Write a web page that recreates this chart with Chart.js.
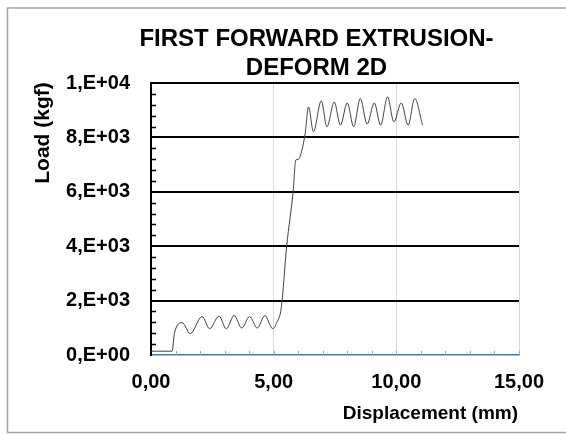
<!DOCTYPE html>
<html>
<head>
<meta charset="utf-8">
<script src="https://cdn.jsdelivr.net/npm/chart.js@4"></script>
<style>
  html, body { margin: 0; padding: 0; background: #fff; }
</style>
</head>
<body>
<canvas id="chart" width="566" height="434"></canvas>
<script>
// displacement (mm) and load (kgf)
const displacement = [0, 0.86, 0.96, 1.27, 1.6, 2.08, 2.39, 2.77, 3.07, 3.39, 3.70, 4.02, 4.33, 4.64, 4.96, 5.13, 5.31,
  5.53, 5.80, 5.90, 6.01, 6.15, 6.28, 6.42, 6.62, 6.94, 7.17, 7.47, 7.72, 8.00, 8.26, 8.53, 8.81,
  9.10, 9.36, 9.64, 9.90, 10.20, 10.48, 10.75, 11.07];
const load = [140, 140, 820, 1187, 785, 1415, 965, 1430, 965, 1450, 990, 1415, 990, 1450, 967, 1200, 1736,
  3990, 6070, 7170, 7190, 7530, 8120, 9120, 8210, 9340, 8390, 9300, 8450, 9270, 8390, 9430, 8490,
  9270, 8450, 9490, 8570, 9270, 8450, 9430, 8450];

const yTickValues = [0, 2000, 4000, 6000, 8000, 10000];
const yTickLabels = ['0,E+00', '2,E+03', '4,E+03', '6,E+03', '8,E+03', '1,E+04'];
const xTickValues = [0, 5, 10, 15];
const xTickLabels = ['0,00', '5,00', '10,00', '15,00'];

const titleLines = ['FIRST FORWARD EXTRUSION-', 'DEFORM 2D'];
const yTitle = 'Load (kgf)';
const xTitle = 'Displacement (mm)';

const FONT = '"Liberation Sans", Arial, sans-serif';

const points = displacement.map((d, i) => ({ x: d, y: load[i] }));

// frame, minor ticks and the titles (placed like the excel original)
const decor = {
  id: 'decor',
  afterDraw(chart) {
    const ctx = chart.ctx;
    const xs = chart.scales.x, ys = chart.scales.y;
    const a = chart.chartArea;
    ctx.save();

    // minor ticks on y, inward
    ctx.strokeStyle = '#000';
    ctx.lineWidth = 1.5;
    for (let v = 400; v < 10000; v += 400) {
      if (v % 2000 === 0) continue;
      const y = Math.round(ys.getPixelForValue(v)) + 0.5;
      ctx.beginPath();
      ctx.moveTo(a.left, y);
      ctx.lineTo(a.left + 5, y);
      ctx.stroke();
    }
    // minor ticks on x, inward
    ctx.strokeStyle = '#8faadc';
    ctx.lineWidth = 1;
    for (let v = 1; v <= 15; v++) {
      const x = Math.round(xs.getPixelForValue(v)) + 0.5;
      ctx.beginPath();
      ctx.moveTo(x, a.bottom);
      ctx.lineTo(x, a.bottom - 4);
      ctx.stroke();
    }

    // outer frame
    ctx.strokeStyle = '#a6a6a6';
    ctx.lineWidth = 1.5;
    ctx.beginPath();
    ctx.moveTo(566, 8);
    ctx.lineTo(7.5, 8);
    ctx.lineTo(7.5, 432.5);
    ctx.lineTo(566, 432.5);
    ctx.stroke();

    ctx.fillStyle = '#000';
    ctx.font = 'bold 24px ' + FONT;
    ctx.textAlign = 'center';
    ctx.textBaseline = 'alphabetic';
    ctx.fillText(titleLines[0], 316.5, 46);
    ctx.fillText(titleLines[1], 316.5, 74.5);

    ctx.font = 'bold 19px ' + FONT;
    ctx.textAlign = 'right';
    ctx.fillText(xTitle, 518, 419);

    ctx.translate(43.5, 133);
    ctx.rotate(-Math.PI / 2);
    ctx.font = 'bold 21px ' + FONT;
    ctx.textAlign = 'center';
    ctx.textBaseline = 'middle';
    ctx.fillText(yTitle, 0, 0);
    ctx.restore();
  }
};

new Chart(document.getElementById('chart'), {
  type: 'line',
  data: {
    datasets: [{
      data: points,
      borderColor: '#404040',
      borderWidth: 1,
      pointRadius: 0,
      fill: false,
      cubicInterpolationMode: 'monotone'
    }]
  },
  options: {
    responsive: false,
    animation: false,
    layout: { padding: { left: 0, top: 83, right: 47, bottom: 39 } },
    plugins: { legend: { display: false }, title: { display: false }, tooltip: { enabled: false } },
    scales: {
      x: {
        type: 'linear',
        min: 0, max: 15,
        afterFit: (s) => { s.height = 40; },
        afterBuildTicks: (s) => { s.ticks = xTickValues.map(v => ({ value: v })); },
        ticks: {
          color: '#000',
          font: { family: FONT, size: 20, weight: 'bold' },
          padding: 15,
          maxRotation: 0,
          callback: (v) => xTickLabels[xTickValues.indexOf(v)]
        },
        grid: { color: '#d9d9d9', lineWidth: 1, drawTicks: false },
        border: { color: '#4472c4', width: 1.5 }
      },
      y: {
        min: 0, max: 10000,
        afterFit: (s) => { s.width = 151; },
        afterBuildTicks: (s) => { s.ticks = yTickValues.map(v => ({ value: v })); },
        ticks: {
          color: '#000',
          font: { family: FONT, size: 20, weight: 'bold' },
          padding: 21,
          callback: (v) => yTickLabels[yTickValues.indexOf(v)]
        },
        grid: {
          color: (c) => c.tick && c.tick.value === 0 ? 'rgba(0,0,0,0)' : '#000',
          lineWidth: 2,
          drawTicks: false
        },
        border: { color: '#000', width: 2 }
      }
    }
  },
  plugins: [decor]
});
</script>
</body>
</html>
